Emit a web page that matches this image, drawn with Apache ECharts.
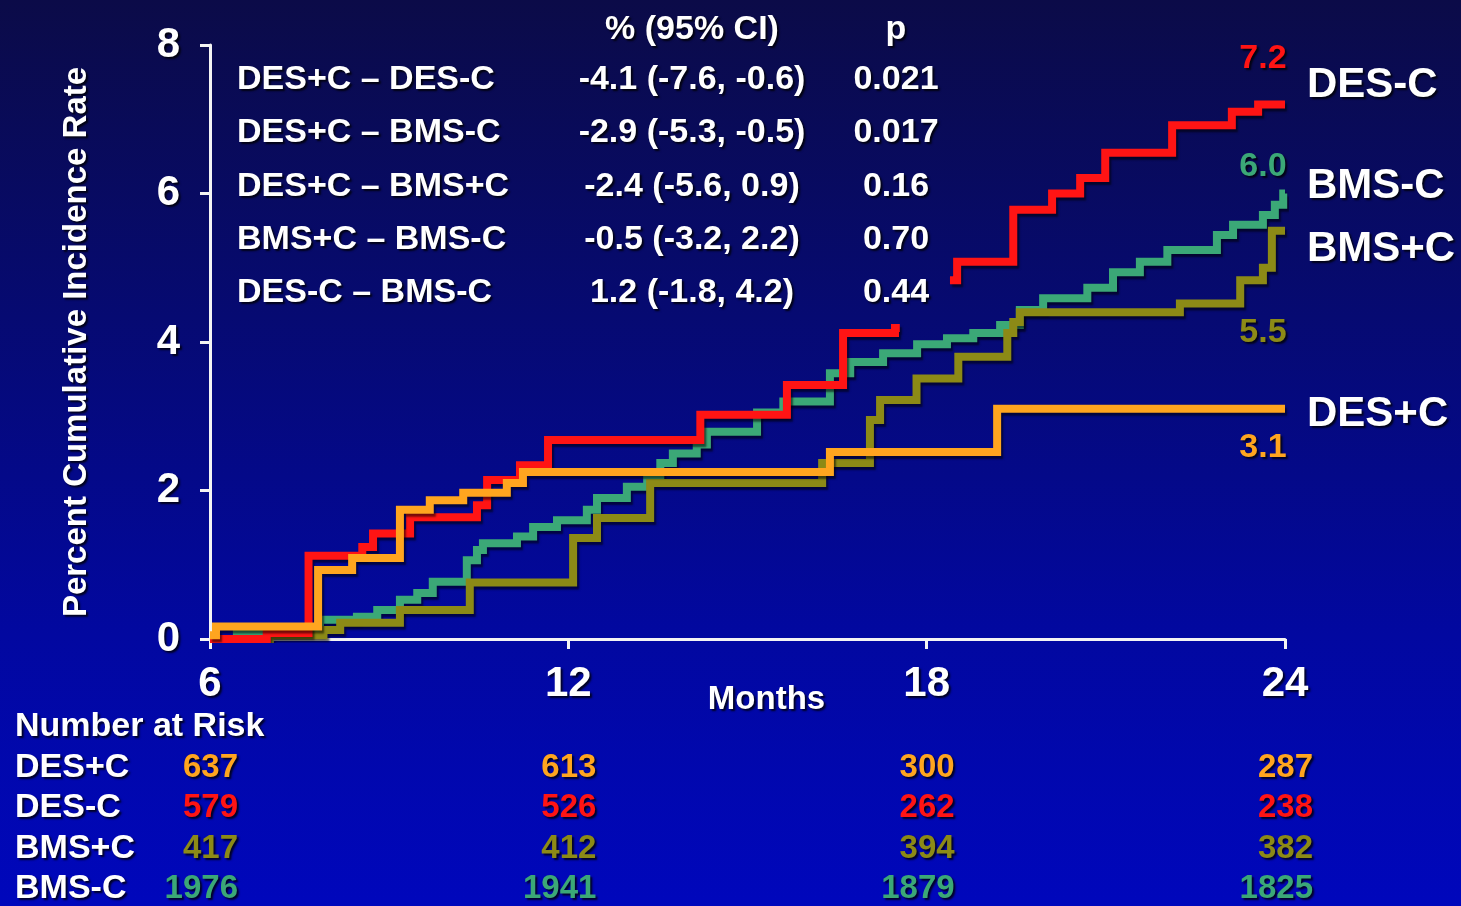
<!DOCTYPE html>
<html>
<head>
<meta charset="utf-8">
<title>Cumulative incidence by stent type and clopidogrel use</title>
<script src="https://cdn.jsdelivr.net/npm/echarts@6/dist/echarts.min.js"></script>
<style>
  html, body { margin: 0; padding: 0; background: #06096e; }
  #chart { width: 1461px; height: 906px; }
</style>
</head>
<body>
<div id="chart"></div>
<script>
// ---- axis ticks ----
const monthTicks = [6, 12, 18, 24];
const rateTicks = [0, 2, 4, 6, 8];

// ---- DES+C (orange) ----
const desPlusMonths = [6, 6.1, 7.81, 8.38, 9.18, 9.68, 10.24, 10.97, 11.24, 16.38, 19.18, 24];
const desPlusRates  = [0.05, 0.17, 0.93, 1.09, 1.74, 1.87, 1.97, 2.10, 2.25, 2.52, 3.1, 3.1];

// ---- DES-C (red); null marks the break in the curve ----
const desMinusMonths = [6, 6.95, 7.65, 8.55, 8.73, 9.35, 10.47, 10.64, 11.19, 11.66, 14.21, 15.66, 16.60, 17.47, 17.55, 17.56,
                        18.39, 18.51, 19.45, 20.10, 20.57, 20.99, 22.11, 23.11, 23.55, 24];
const desMinusRates  = [0, 0.08, 1.12, 1.24, 1.42, 1.64, 1.80, 2.14, 2.34, 2.68, 3.02, 3.42, 4.12, 4.19, 4.19, null,
                        4.83, 5.08, 5.78, 6.00, 6.21, 6.55, 6.92, 7.10, 7.2, 7.2];

// ---- BMS+C (olive) ----
const bmsPlusMonths = [6, 7.0, 7.9, 8.18, 9.18, 10.35, 12.08, 12.48, 13.37, 16.25, 17.05, 17.22, 17.83, 18.53, 19.35, 19.45, 19.56,
                       22.24, 23.25, 23.63, 23.78, 24];
const bmsPlusRates  = [0, 0.05, 0.12, 0.22, 0.39, 0.76, 1.36, 1.63, 2.10, 2.37, 2.95, 3.22, 3.51, 3.80, 4.12, 4.27, 4.40,
                       4.52, 4.83, 5.0, 5.5, 5.5];

// ---- BMS-C (green) ----
const bmsMinusMonths = [6, 6.45, 7.84, 8.46, 8.80, 9.18, 9.47, 9.73, 10.30, 10.47, 10.57, 11.14, 11.41, 11.81, 12.31, 12.48,
                        12.98, 13.32, 13.54, 13.75, 14.15, 14.32, 15.16, 15.60, 16.38, 16.72, 17.27, 17.84, 18.34, 18.78,
                        19.23, 19.56, 19.95, 20.69, 21.12, 21.57, 22.03, 22.86, 23.13, 23.63, 23.83, 23.97, 24];
const bmsMinusRates  = [0, 0.09, 0.26, 0.30, 0.39, 0.53, 0.62, 0.77, 1.06, 1.20, 1.29, 1.38, 1.51, 1.60, 1.74, 1.90,
                        2.05, 2.18, 2.37, 2.50, 2.62, 2.79, 3.05, 3.20, 3.58, 3.73, 3.85, 3.97, 4.05, 4.12,
                        4.23, 4.43, 4.59, 4.73, 4.94, 5.08, 5.24, 5.44, 5.58, 5.71, 5.85, 6.0, 6.0];

// ---- pairwise comparison table ----
const compareNames = ['DES+C \u2013 DES-C', 'DES+C \u2013 BMS-C', 'DES+C \u2013 BMS+C', 'BMS+C \u2013 BMS-C', 'DES-C \u2013 BMS-C'];
const compareCI    = ['-4.1 (-7.6, -0.6)', '-2.9 (-5.3, -0.5)', '-2.4 (-5.6, 0.9)', '-0.5 (-3.2, 2.2)', '1.2 (-1.8, 4.2)'];
const compareP     = ['0.021', '0.017', '0.16', '0.70', '0.44'];

// ---- number at risk (at 6, 12, 18, 24 months) ----
const riskGroups = ['DES+C', 'DES-C', 'BMS+C', 'BMS-C'];
const riskDesPlus  = [637, 613, 300, 287];
const riskDesMinus = [579, 526, 262, 238];
const riskBmsPlus  = [417, 412, 394, 382];
const riskBmsMinus = [1976, 1941, 1879, 1825];

const COLORS = { desPlus: '#ffa51f', desMinus: '#ff1414', bmsPlus: '#8c8a16', bmsMinus: '#3ba877' };
const FONT = '"Liberation Sans", Arial, Helvetica, sans-serif';
const shadow = { textShadowColor: 'rgba(0,0,0,0.8)', textShadowBlur: 2, textShadowOffsetX: 2, textShadowOffsetY: 2 };

// Build [month, rate] pairs; the final point carries the 24-month value label
function curve(months, rates, color, dx, dy) {
  const d = months.map((m, i) => [m, rates[i]]);
  const last = d.length - 1;
  d[last] = {
    value: d[last],
    label: Object.assign({
      show: true, position: 'inside', offset: [dx, dy],
      formatter: p => Number(p.value[1]).toFixed(1),
      color: color, fontSize: 34, fontWeight: 'bold', fontFamily: FONT
    }, shadow)
  };
  return d;
}

function lineSeries(name, data, color, z, endDy) {
  return {
    name, type: 'line', step: 'end', data, z,
    symbol: 'circle', symbolSize: 0, showSymbol: true, showAllSymbol: true,
    connectNulls: false, silent: true,
    lineStyle: { color, width: 8, join: 'miter', cap: 'butt',
                 shadowColor: 'rgba(0,0,0,0.55)', shadowBlur: 2, shadowOffsetX: 2, shadowOffsetY: 3 },
    itemStyle: { color },
    endLabel: Object.assign({
      show: true, formatter: p => p.seriesName, distance: 22, offset: [0, endDy],
      color: '#ffffff', fontSize: 42, fontWeight: 'bold', fontFamily: FONT
    }, shadow)
  };
}

const chart = echarts.init(document.getElementById('chart'), null, { renderer: 'canvas' });

chart.setOption({
  animation: false,
  backgroundColor: new echarts.graphic.LinearGradient(0, 0, 0, 1, [
    { offset: 0, color: '#0b0b48' },
    { offset: 0.35, color: '#060a72' },
    { offset: 0.7, color: '#0208a0' },
    { offset: 1, color: '#0007bc' }
  ]),
  grid: { left: 210, right: 176, top: 45, bottom: 267 },
  xAxis: {
    type: 'value', min: 6, max: 24, interval: 6,
    name: 'Months', nameLocation: 'middle', nameGap: 44, nameMoveOverlap: false,
    nameTextStyle: Object.assign({ color: '#fff', fontSize: 33, fontWeight: 'bold', fontFamily: FONT, padding: [0, 0, 0, 38] }, shadow),
    axisLine: { lineStyle: { color: '#f4f4f4', width: 3 } },
    axisTick: { show: true, length: 10, inside: false, lineStyle: { color: '#f4f4f4', width: 3 } },
    axisLabel: Object.assign({ color: '#fff', fontSize: 42, fontWeight: 'bold', fontFamily: FONT, margin: 24,
      formatter: v => monthTicks.includes(v) ? String(v) : '' }, shadow),
    splitLine: { show: false }
  },
  yAxis: {
    type: 'value', min: 0, max: 8, interval: 2,
    name: 'Percent Cumulative Incidence Rate', nameLocation: 'middle', nameGap: 117, nameRotate: 90,
    nameTextStyle: Object.assign({ color: '#fff', fontSize: 33, fontWeight: 'bold', fontFamily: FONT }, shadow),
    axisLine: { show: true, lineStyle: { color: '#f4f4f4', width: 3 } },
    axisTick: { show: true, length: 10, lineStyle: { color: '#f4f4f4', width: 3 } },
    axisLabel: Object.assign({ color: '#fff', fontSize: 42, fontWeight: 'bold', fontFamily: FONT, margin: 30,
      formatter: v => rateTicks.includes(v) ? String(v) : '' }, shadow),
    splitLine: { show: false }
  },
  series: [
    lineSeries('BMS-C', curve(bmsMinusMonths, bmsMinusRates, COLORS.bmsMinus, -22, -27), COLORS.bmsMinus, 2, -7),
    lineSeries('BMS+C', curve(bmsPlusMonths, bmsPlusRates, COLORS.bmsPlus, -22, 102), COLORS.bmsPlus, 3, 19),
    lineSeries('DES-C', curve(desMinusMonths, desMinusRates, COLORS.desMinus, -22, -46), COLORS.desMinus, 4, -19),
    lineSeries('DES+C', curve(desPlusMonths, desPlusRates, COLORS.desPlus, -22, 39), COLORS.desPlus, 5, 6)
  ]
});

// ---- overlay text: comparison table and number-at-risk rows ----
function txt(text, x, y, fill, size, align) {
  return {
    type: 'text', silent: true, z: 50,
    style: Object.assign({
      text, x, y, fill, font: 'bold ' + size + 'px ' + FONT,
      textAlign: align || 'left', textVerticalAlign: 'middle'
    }, shadow)
  };
}

const graphics = [];
const tableRowY = [80, 133, 187, 240, 293];
graphics.push(txt('% (95% CI)', 692, 30, '#fff', 34, 'center'));
graphics.push(txt('p', 896, 30, '#fff', 34, 'center'));
compareNames.forEach((n, i) => {
  graphics.push(txt(n, 237, tableRowY[i], '#fff', 34, 'left'));
  graphics.push(txt(compareCI[i], 692, tableRowY[i], '#fff', 34, 'center'));
  graphics.push(txt(compareP[i], 896, tableRowY[i], '#fff', 34, 'center'));
});

graphics.push(txt('Number at Risk', 15, 727, '#fff', 34, 'left'));
const riskRows = [riskDesPlus, riskDesMinus, riskBmsPlus, riskBmsMinus];
const riskColors = [COLORS.desPlus, COLORS.desMinus, COLORS.bmsPlus, COLORS.bmsMinus];
const riskRowY = [768, 808, 849, 889];
riskGroups.forEach((g, r) => {
  graphics.push(txt(g, 15, riskRowY[r], '#fff', 34, 'left'));
  monthTicks.forEach((m, c) => {
    const px = chart.convertToPixel({ xAxisIndex: 0 }, m);
    graphics.push(txt(String(riskRows[r][c]), px + 28, riskRowY[r], riskColors[r], 33, 'right'));
  });
});

chart.setOption({ graphic: graphics });
</script>
</body>
</html>
